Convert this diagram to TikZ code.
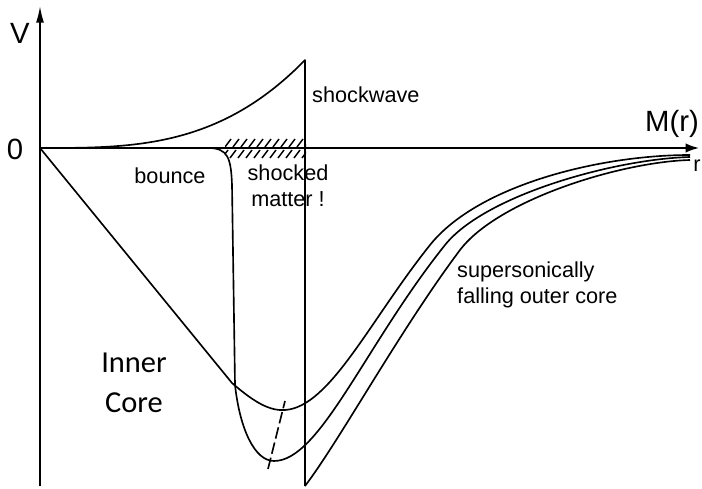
\documentclass[tikz,border=0pt]{standalone}
\usepackage{fontspec}
\setmainfont{Liberation Sans}
\newfontfamily\corefont{Carlito}
\usetikzlibrary{arrows.meta}

\begin{document}
\begin{tikzpicture}[
  x=0.03cm, y=-0.03cm,
  >=Latex,
  axis/.style={line width=1.4pt},
  curve/.style={line width=1.4pt, line join=round},
  hatch/.style={line width=1.2pt},
  lbl/.style={inner sep=0pt, font=\fontsize{18.5}{22}\selectfont},
  big/.style={inner sep=0pt, font=\fontsize{25}{28}\selectfont},
  corelbl/.style={inner sep=0pt, align=center, font=\corefont\fontsize{26}{34}\selectfont}
]
\useasboundingbox (0,0) rectangle (702,489);

% axes
\coordinate (origin) at (40,148);
\coordinate (vtop) at (40,6);
\coordinate (vbot) at (40,486);
\coordinate (hend) at (699,148);
\draw[axis,-{Latex[length=5mm,width=2.4mm]}] (vbot) -- (vtop);
\draw[axis,-{Latex[length=4mm,width=2.8mm]}] (origin) -- (hend);

% shock front
\coordinate (peak) at (305,60);
\coordinate (shockbot) at (305,486);
\draw[curve] plot[domain=40:305,samples=80] (\x,{148-88*((\x-40)/265)^3.1}) -- (shockbot);

% shocked matter hatching
\begin{scope}
  \clip (225,138) rectangle (306,159);
  \foreach \h in {222,230,...,302} {
    \draw[hatch] (\h,158) -- (\h+6,150);
    \draw[hatch] (\h+3,147) -- (\h+9,139);
  }
\end{scope}

% infall profiles
\draw[curve] (origin) -- (232,383) .. controls (255,403) and (270,411) .. (285,410)
  .. controls (330,407) and (370,320) .. (430,245)
  .. controls (478,185) and (600,155) .. (690,155);
\draw[curve] (origin) -- (208,148) .. controls (228,148) and (231,158) .. (232,185)
  -- (235,385) .. controls (240,430) and (255,461) .. (274,461)
  .. controls (320,461) and (365,345) .. (445,245)
  .. controls (485,195) and (615,159) .. (690,157);
\draw[curve] (shockbot) .. controls (340,440) and (400,330) .. (460,250)
  .. controls (498,200) and (620,162) .. (690,160);
\draw[curve,dash pattern=on 3.5mm off 1.2mm] (268,469) -- (285,401);

% labels
\node[big] (vlabel) at (20,33) {V};
\node[big] (zero) at (15,149) {0};
\node[big] (mlabel) at (672,124) {M(r)};
\node[lbl] (rlabel) at (697,166) {r};
\node[lbl,anchor=west] (shocklbl) at (312,95) {shockwave};
\node[lbl] (bounce) at (170,176) {bounce};
\node[lbl,align=center] (shocked) at (288,186) {shocked\\matter !};
\node[lbl,anchor=north west,align=left] (outer) at (457,262) {supersonically\\falling outer core};
\node[corelbl] (inner) at (134,383) {Inner\\Core};
\end{tikzpicture}
\end{document}
